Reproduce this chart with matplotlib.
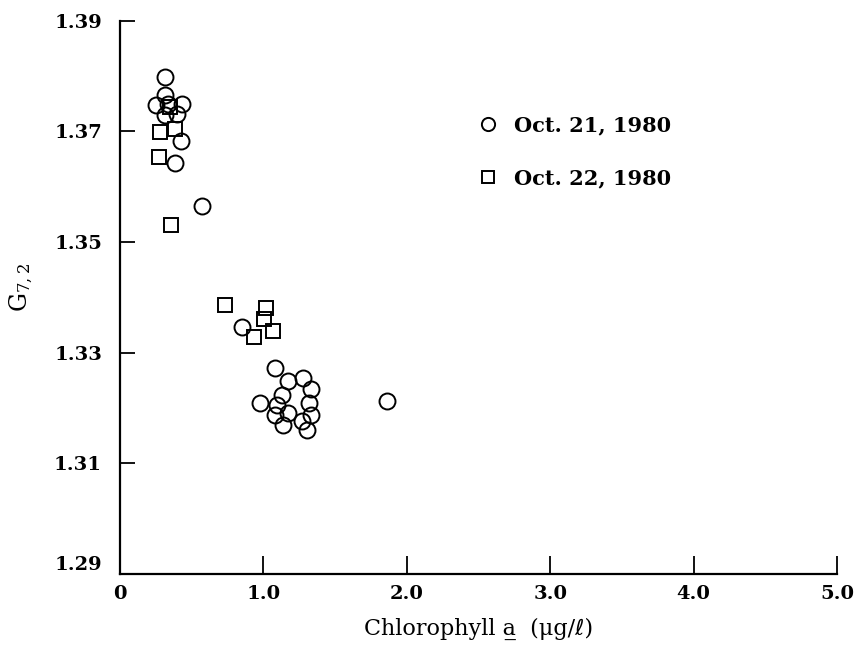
import matplotlib
matplotlib.use("Agg")
import matplotlib.pyplot as plt
from matplotlib.lines import Line2D

plt.rcParams['font.family'] = ['DejaVu Serif', 'DejaVu Sans']
plt.rcParams['mathtext.fontset'] = 'dejavuserif'

# Oct. 21, 1980 (circles)
oct21_chl = [0.314, 0.314, 0.251, 0.429, 0.335, 0.314, 0.398, 0.422, 0.384, 0.575,
             0.850, 1.078, 1.171, 1.273, 1.332, 1.133, 0.978, 1.315, 1.098, 1.082,
             1.171, 1.332, 1.140, 1.269, 1.304, 1.862]
oct21_g = [1.3799, 1.3765, 1.3747, 1.3749, 1.3749, 1.3729, 1.3731, 1.3682, 1.3642, 1.3566,
           1.3347, 1.3272, 1.3248, 1.3254, 1.3235, 1.3224, 1.3209, 1.3209, 1.3206, 1.3188,
           1.3191, 1.3187, 1.3170, 1.3176, 1.3161, 1.3212]

# Oct. 22, 1980 (squares)
oct22_chl = [0.279, 0.384, 0.274, 0.354, 0.349, 0.733, 1.020, 1.001, 0.931, 1.064]
oct22_g = [1.3699, 1.3705, 1.3654, 1.3530, 1.3744, 1.3386, 1.3380, 1.3361, 1.3329, 1.3340]

xticks = [0, 1.0, 2.0, 3.0, 4.0, 5.0]
xticklabels = ['0', '1.0', '2.0', '3.0', '4.0', '5.0']
yticks = [1.29, 1.31, 1.33, 1.35, 1.37, 1.39]
yticklabels = ['1.29', '1.31', '1.33', '1.35', '1.37', '1.39']

fig = plt.figure(figsize=(8.57, 6.48), dpi=100)
ax = fig.add_axes([120 / 857, 1 - 574 / 648, 717 / 857, 553.3 / 648])

ax.plot(oct21_chl, oct21_g, linestyle='none', marker='o', markersize=11.5,
        markerfacecolor='none', markeredgecolor='black', markeredgewidth=1.4)
ax.plot(oct22_chl, oct22_g, linestyle='none', marker='s', markersize=9.5,
        markerfacecolor='none', markeredgecolor='black', markeredgewidth=1.4)

ax.set_xlim(0, 5.0)
ax.set_ylim(1.29, 1.39)
ax.set_xticks(xticks)
ax.set_xticklabels(xticklabels, fontweight='bold')
ax.set_yticks(yticks)
ax.set_yticklabels(yticklabels, fontweight='bold')

for s in ['top', 'right']:
    ax.spines[s].set_visible(False)
for s in ['left', 'bottom']:
    ax.spines[s].set_linewidth(1.6)

ax.tick_params(axis='both', direction='in', width=1.3, labelsize=14)
ax.tick_params(axis='y', length=11, pad=13)
ax.tick_params(axis='x', length=13, pad=8)
ax.yaxis.get_major_ticks()[0].tick1line.set_visible(False)
ax.get_yticklabels()[0].set_va('bottom')

ax.set_xlabel('Chlorophyll a\u0332  (\u03bcg/\u2113)', fontsize=16)
ax.xaxis.set_label_coords(0.5, -0.080)
ax.set_ylabel(r'$\mathrm{G}_{7,2}$', fontsize=17)
ax.yaxis.set_label_coords(-0.118, 0.517)

handles = [Line2D([], [], linestyle='none', marker='o', markersize=9.5,
                  markerfacecolor='none', markeredgecolor='black', markeredgewidth=1.4),
           Line2D([], [], linestyle='none', marker='s', markersize=8,
                  markerfacecolor='none', markeredgecolor='black', markeredgewidth=1.4)]
fig.legend(handles, ['Oct. 21, 1980', 'Oct. 22, 1980'], loc='upper left',
           bbox_to_anchor=(459 / 857, 1 - 97 / 648), frameon=False,
           prop={'size': 15, 'weight': 'bold'}, labelspacing=1.55,
           handlelength=1.0, handletextpad=0.75)

fig.savefig('out.png', dpi=100)
